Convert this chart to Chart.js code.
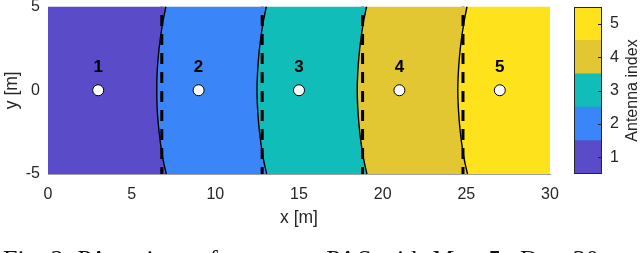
<!DOCTYPE html>
<html>
<head>
<meta charset="utf-8">
<script src="https://cdn.jsdelivr.net/npm/chart.js@4.4.1/dist/chart.umd.min.js"></script>
<style>
  html, body { margin: 0; padding: 0; background: #ffffff; overflow: hidden; }
  #wrap { position: relative; width: 640px; height: 253px; overflow: hidden; }
  #main { position: absolute; left: 0; top: 0; }
  #cbar { position: absolute; left: 560px; top: 0; }
  #caption { position: absolute; left: 3px; top: 247px; font-family: "Liberation Serif", "Times New Roman", serif;
    font-size: 26px; line-height: 1; white-space: nowrap; color: #111; }
  #caption .m { word-spacing: 4px; }
</style>
</head>
<body>
<div id="wrap">
  <canvas id="main" width="640" height="253"></canvas>
  <canvas id="cbar" width="80" height="253"></canvas>
  <div id="caption">Fig. 2: PA regions of two-state PAS with <span class="m"><i>M</i> = 5, <i>D</i> = 30</span></div>
</div>
<script>
// ---------------- data ----------------
const xTickValues = [0, 5, 10, 15, 20, 25, 30];
const yTickValues = [-5, 0, 5];
const antennaIndex = [1, 2, 3, 4, 5];
const antennaLabels = ['1', '2', '3', '4', '5'];
const antennaX = [3, 9, 15, 21, 27];
const antennaY = [0, 0, 0, 0, 0];

// y samples along the curved region boundaries
const curveY = [-5, -4, -3, -2, -1, 0, 1, 2, 3, 4, 5];
const boundary1X = [7.07, 6.85, 6.70, 6.59, 6.52, 6.50, 6.52, 6.59, 6.70, 6.85, 7.05];
const boundary2X = [13.07, 12.85, 12.70, 12.59, 12.52, 12.49, 12.52, 12.59, 12.70, 12.85, 13.05];
const boundary3X = [19.06, 18.84, 18.69, 18.58, 18.51, 18.48, 18.51, 18.58, 18.69, 18.84, 19.04];
const boundary4X = [25.07, 24.85, 24.70, 24.59, 24.52, 24.49, 24.52, 24.59, 24.70, 24.85, 25.04];
const boundaries = [boundary1X, boundary2X, boundary3X, boundary4X];

// dashed vertical boundaries
const dashedX = [6.8, 12.8, 18.8, 24.8];

const xRange = [0, 30];
const yRange = [-5, 5];

const regionColors = ['#5a4bc9', '#3a85f7', '#11bdb8', '#e2c733', '#fde21c'];

// ---------------- build datasets ----------------
function curvePoints(xs, reverse) {
  const pts = xs.map((x, i) => ({ x: x, y: curveY[i] }));
  return reverse ? pts.slice().reverse() : pts;
}

const datasets = [];
// region polygons
for (let k = 0; k < antennaIndex.length; k++) {
  let pts = [];
  if (k === 0) {
    pts.push({ x: xRange[0], y: yRange[0] }, { x: xRange[0], y: yRange[1] });
  } else {
    pts = pts.concat(curvePoints(boundaries[k - 1], false));
  }
  if (k === antennaIndex.length - 1) {
    pts.push({ x: xRange[1], y: yRange[1] }, { x: xRange[1], y: yRange[0] });
  } else {
    pts = pts.concat(curvePoints(boundaries[k], true));
  }
  datasets.push({
    data: pts, showLine: true, fill: 'shape', backgroundColor: regionColors[k],
    borderWidth: 0, borderColor: 'rgba(0,0,0,0)', pointRadius: 0, tension: 0, order: 100 - k
  });
}
// solid curved boundaries
boundaries.forEach(b => {
  datasets.push({
    data: curvePoints(b, false), showLine: true, fill: false, borderColor: '#000',
    borderWidth: 1.4, pointRadius: 0, tension: 0.4, order: 20
  });
});
// dashed vertical lines
dashedX.forEach(x => {
  datasets.push({
    data: [{ x: x, y: yRange[0] }, { x: x, y: yRange[1] }], showLine: true, fill: false,
    borderColor: '#000', borderWidth: 3, borderDash: [11, 8], borderDashOffset: 4,
    pointRadius: 0, order: 10
  });
});
// antenna markers
datasets.push({
  data: antennaX.map((x, i) => ({ x: x, y: antennaY[i] })), showLine: false,
  pointRadius: 5.5, pointBackgroundColor: '#ffffff', pointBorderColor: '#000', pointBorderWidth: 1,
  order: 0
});

const labelPlugin = {
  id: 'antennaLabels',
  afterDatasetsDraw(chart) {
    const { ctx, scales } = chart;
    ctx.save();
    ctx.font = 'bold 17px "Liberation Sans", Arial, sans-serif';
    ctx.fillStyle = '#000';
    ctx.textAlign = 'center';
    ctx.textBaseline = 'middle';
    antennaX.forEach((x, i) => {
      const px = scales.x.getPixelForValue(x);
      const py = scales.y.getPixelForValue(antennaY[i]) - 22.5;
      ctx.fillText(antennaLabels[i], px, py);
    });
    ctx.restore();
  }
};

const fontFam = '"Liberation Sans", Arial, sans-serif';
const tickFont = { family: fontFam, size: 16 };
const titleFont = { family: fontFam, size: 17.5 };
const tickColor = '#262626';

new Chart(document.getElementById('main'), {
  type: 'scatter',
  data: { datasets: datasets },
  plugins: [labelPlugin],
  options: {
    responsive: false, animation: false, devicePixelRatio: 1,
    layout: { padding: { left: 0, right: 90, top: 6, bottom: 0 } },
    plugins: { legend: { display: false }, tooltip: { enabled: false } },
    events: [],
    scales: {
      x: {
        type: 'linear', min: xRange[0], max: xRange[1],
        afterBuildTicks: s => { s.ticks = xTickValues.map(v => ({ value: v })); },
        afterFit: s => { s.height = 79; s.paddingLeft = 0; s.paddingRight = 0; },
        grid: { display: false, drawTicks: false },
        border: { display: true, color: '#a0a0a0', width: 1 },
        ticks: { font: tickFont, color: tickColor, padding: 11, maxRotation: 0 },
        title: { display: true, text: 'x [m]', font: titleFont, color: tickColor, padding: { top: 0, bottom: 24 } }
      },
      y: {
        type: 'linear', min: yRange[0], max: yRange[1],
        afterBuildTicks: s => { s.ticks = yTickValues.map(v => ({ value: v })); },
        afterFit: s => { s.width = 48; s.paddingTop = 0; s.paddingBottom = 0; },
        grid: { display: false, drawTicks: false },
        border: { display: false },
        ticks: { font: tickFont, color: tickColor, padding: 8 },
        title: { display: true, text: 'y [m]', font: titleFont, color: tickColor, padding: { top: 2, bottom: 0 } }
      }
    }
  }
});

// ---------------- colorbar ----------------
const cbarPlugin = {
  id: 'cbarFrame',
  afterDatasetsDraw(chart) {
    const { ctx, chartArea: a, scales } = chart;
    ctx.save();
    ctx.strokeStyle = '#262626';
    ctx.lineWidth = 1;
    ctx.strokeRect(Math.round(a.left) + 0.5, Math.round(a.top) + 0.5,
      Math.round(a.right - a.left) - 1, Math.round(a.bottom - a.top) - 1);
    antennaIndex.forEach(v => {
      const py = Math.round(scales.y.getPixelForValue(v)) + 0.5;
      ctx.beginPath();
      ctx.moveTo(a.right - 4, py);
      ctx.lineTo(a.right, py);
      ctx.stroke();
    });
    ctx.font = '16px ' + fontFam;
    ctx.fillStyle = tickColor;
    ctx.textAlign = 'center';
    ctx.textBaseline = 'middle';
    ctx.translate(73, (a.top + a.bottom) / 2);
    ctx.rotate(-Math.PI / 2);
    ctx.fillText('Antenna index', 0, 0);
    ctx.restore();
  }
};

new Chart(document.getElementById('cbar'), {
  type: 'bar',
  data: {
    labels: [''],
    datasets: antennaIndex.map((v, i) => ({
      data: [[v - 0.5, v + 0.5]], backgroundColor: regionColors[i], borderWidth: 0,
      barPercentage: 1, categoryPercentage: 1
    }))
  },
  plugins: [cbarPlugin],
  options: {
    responsive: false, animation: false, devicePixelRatio: 1,
    layout: { padding: { left: 14, right: 0, top: 7, bottom: 79 } },
    plugins: { legend: { display: false }, tooltip: { enabled: false } },
    events: [],
    scales: {
      x: { display: false, stacked: true,
        afterFit: s => { s.height = 0; s.paddingLeft = 0; s.paddingRight = 0; } },
      y: {
        position: 'right', min: 0.5, max: 5.5,
        afterBuildTicks: s => { s.ticks = antennaIndex.map(v => ({ value: v })); },
        afterFit: s => { s.width = 38; s.paddingTop = 0; s.paddingBottom = 0; },
        grid: { display: false, drawTicks: false },
        border: { display: false },
        ticks: { font: tickFont, color: tickColor, padding: 8 }
      }
    }
  }
});
</script>
</body>
</html>
